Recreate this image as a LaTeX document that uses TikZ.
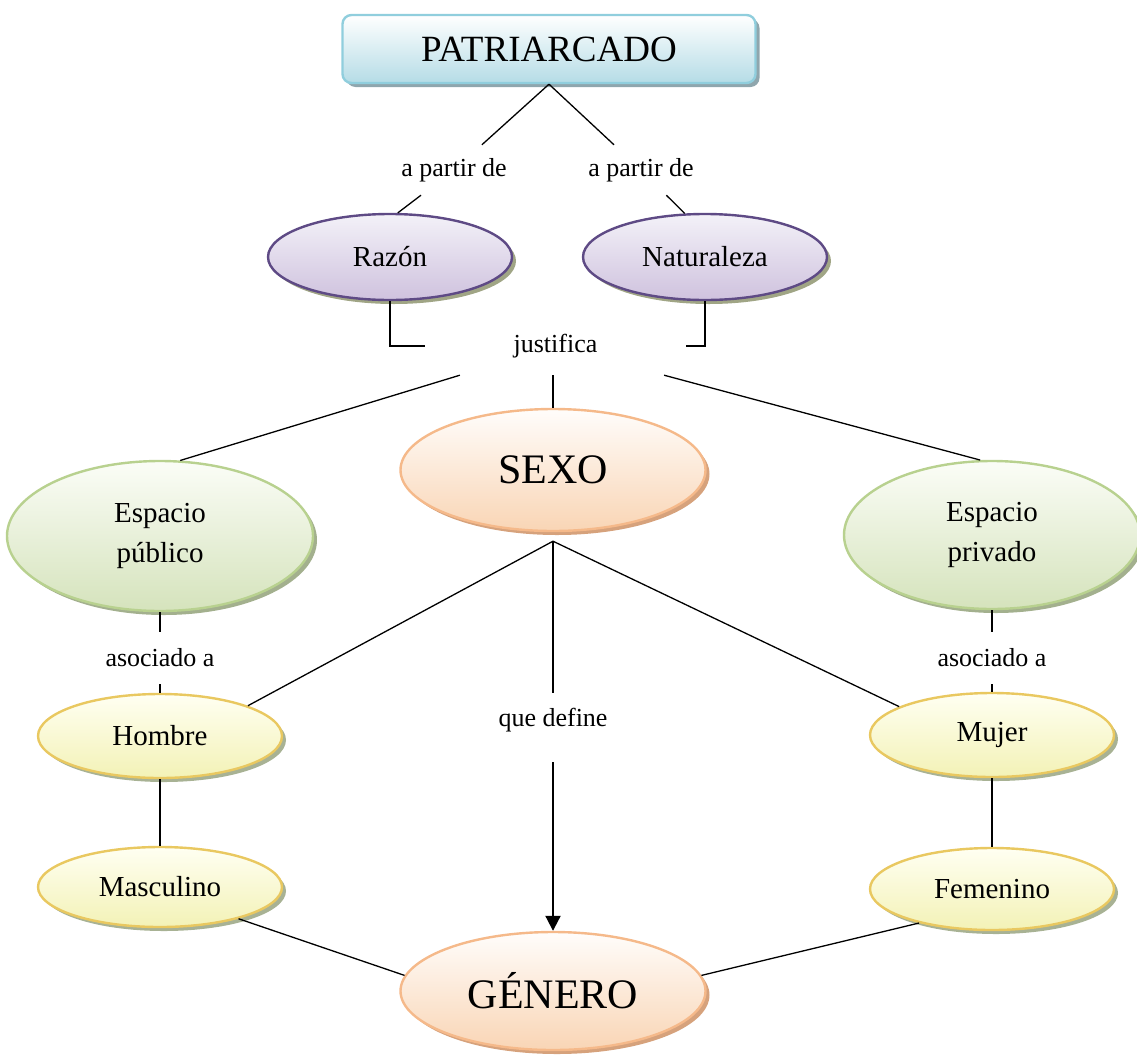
\documentclass[tikz,border=0pt]{standalone}
\usepackage{fontspec}
\setmainfont{Liberation Serif}
\usetikzlibrary{shapes.geometric,shadows,arrows.meta}
\definecolor{azA}{HTML}{FFFFFF}\definecolor{azC}{HTML}{B5DCE6}
\definecolor{azB}{HTML}{90CEDD}\definecolor{azS}{HTML}{8FA6AD}
\definecolor{lilaA}{HTML}{F3F1F8}\definecolor{lilaC}{HTML}{CFC2DE}
\definecolor{lilaB}{HTML}{5E4A85}\definecolor{lilaS}{HTML}{A0A585}
\definecolor{narA}{HTML}{FFFDFB}\definecolor{narC}{HTML}{F9D5B5}
\definecolor{narB}{HTML}{F5B98A}\definecolor{narS}{HTML}{D6A27C}
\definecolor{verA}{HTML}{FBFDF7}\definecolor{verC}{HTML}{D5E3BC}
\definecolor{verB}{HTML}{B8D18F}\definecolor{verS}{HTML}{A3B08E}
\definecolor{amaA}{HTML}{FFFFF2}\definecolor{amaC}{HTML}{F3F2B6}
\definecolor{amaB}{HTML}{E9C860}\definecolor{amaS}{HTML}{A8B294}
\begin{document}
\begin{tikzpicture}[x=1pt,y=-1pt,
  conn/.style={line width=1.3pt,black},
  flecha/.style={line width=2pt,-{Triangle[length=15pt,width=15pt]}},
  etiq/.style={font=\fontsize{26}{30}\selectfont,inner sep=0pt},
  burbuja/.style={ellipse,inner sep=0pt,line width=2.4pt,align=center,font=\fontsize{29}{40}\selectfont},
  pbox/.style={rectangle,rounded corners=9pt,line width=2.4pt,draw=azB,top color=azA,bottom color=azC,
    minimum width=413pt,minimum height=68pt,font=\fontsize{37}{40}\selectfont,
    drop shadow={shadow xshift=4pt,shadow yshift=-4pt,fill=azS,opacity=1}},
  lila/.style={burbuja,draw=lilaB,top color=lilaA,bottom color=lilaC,minimum width=244pt,minimum height=86pt,
    drop shadow={shadow xshift=4pt,shadow yshift=-4pt,fill=lilaS,opacity=1}},
  naranja/.style={burbuja,draw=narB,top color=narA,bottom color=narC,minimum width=305pt,font=\fontsize{42}{46}\selectfont,
    drop shadow={shadow xshift=4pt,shadow yshift=-4pt,fill=narS,opacity=1}},
  verde/.style={burbuja,draw=verB,top color=verA,bottom color=verC,
    drop shadow={shadow xshift=4pt,shadow yshift=-4pt,fill=verS,opacity=1}},
  amarillo/.style={burbuja,draw=amaB,top color=amaA,bottom color=amaC,minimum width=244pt,
    drop shadow={shadow xshift=4pt,shadow yshift=-4pt,fill=amaS,opacity=1}}]
\useasboundingbox (0,0) rectangle (1137,1055);
% top part
\node[pbox] (pat) at (549,49) {PATRIARCADO};
\node[etiq,minimum height=50pt] (ap1) at (454,170) {a partir de};
\node[etiq,minimum height=50pt] (ap2) at (641,170) {a partir de};
\node[lila] (razon) at (390,257) {Razón};
\node[lila] (natur) at (705,257) {Naturaleza};
\draw[conn] (pat.south) -- (ap1); \draw[conn] (ap1) -- (razon.80);
\draw[conn] (pat.south) -- (ap2); \draw[conn] (ap2) -- (natur.115);
\node[etiq,minimum width=261pt,minimum height=58pt] (just) at (555.5,346) {justifica};
\draw[conn] (razon.south) |- (just.west);
\draw[conn] (natur.south) |- (just.east);
% middle
\node[naranja,minimum height=122pt] (sexo) at (553,470) {SEXO};
\node[verde,minimum width=306pt,minimum height=150pt] (esppub) at (160,536) {Espacio\\público};
\node[verde,minimum width=296pt,minimum height=148pt] (esppriv) at (992,535) {Espacio\\privado};
\draw[conn] (just) -- (esppub.75);
\draw[conn] (just.south -| sexo) -- (sexo.north);
\draw[conn] (just) -- (esppriv.99);
\node[etiq,minimum height=52pt] (as1) at (160,658) {asociado a};
\node[etiq,minimum height=52pt] (as2) at (992,658) {asociado a};
\node[amarillo,minimum height=84pt] (hombre) at (160,736) {Hombre};
\node[amarillo,minimum height=84pt] (mujer) at (992,735) {Mujer};
\node[amarillo,minimum height=80pt] (masc) at (160,887) {Masculino};
\node[amarillo,minimum height=82pt] (fem) at (992,889) {Femenino};
\draw[conn] (esppub.south) -- (as1); \draw[conn] (as1) -- (hombre.north);
\draw[conn] (esppriv.south) -- (as2); \draw[conn] (as2) -- (mujer.north);
\draw[conn] (hombre.south) -- (masc.north);
\draw[conn] (mujer.south) -- (fem.north);
% bottom
\node[naranja,minimum height=118pt] (genero) at (553,991) {GÉNERO};
\coordinate (sx) at ([yshift=-9pt]sexo.south);
\node[etiq,minimum height=54pt] (qd) at (553,720) {que define};
\draw[conn] (sx) -- (hombre.19);
\draw[conn] (sx) -- (mujer.163);
\draw[conn,line width=2pt] (sx) -- (qd);
\draw[flecha,shorten <=15pt] (qd) -- (genero.north);
\draw[conn] (masc.-22) -- (genero.174);
\draw[conn] (fem.205) -- (genero.6);
\end{tikzpicture}
\end{document}
